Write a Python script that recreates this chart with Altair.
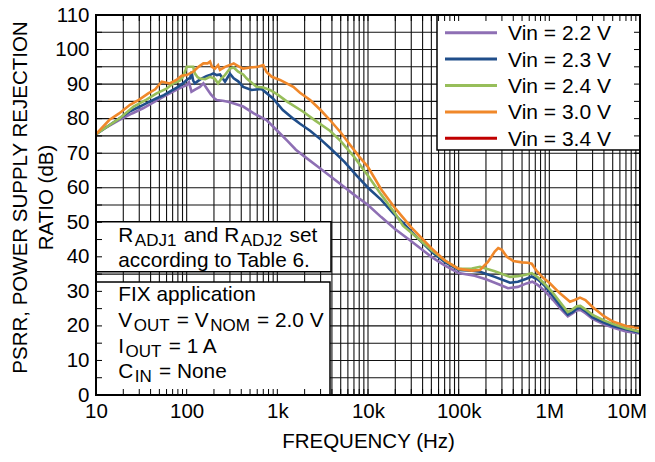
import altair as alt
import pandas as pd

FONT = "Liberation Sans"
W, H = 544, 380

# ---------------- data ----------------
series_names = ["Vin = 2.2 V", "Vin = 2.3 V", "Vin = 2.4 V", "Vin = 3.0 V", "Vin = 3.4 V"]
series_colors = ["#8e6fb4", "#204e8a", "#97be5a", "#f0882a", "#c00000"]

f22 = [10, 13, 18, 25, 33, 45, 55, 65, 77, 90, 100, 106, 113, 125, 140, 153, 166, 185, 200, 214,
       250, 286, 340, 420, 550, 760, 1000, 1300, 1600, 2000, 3000, 5000, 7000, 10000, 14000, 20000,
       30000, 50000, 70000, 100000, 150000, 200000, 280000, 350000, 450000, 560000, 650000, 750000,
       900000, 1100000, 1350000, 1600000, 1800000, 2000000, 2200000, 2500000, 3000000, 4000000,
       5000000, 7000000, 10000000]
db22 = [75.5, 77.5, 79.6, 81.5, 83, 85, 86.3, 87.3, 88.3, 89.2, 89.7, 90.5, 87.8, 88.5, 89.2, 90.2,
        88.8, 87, 86, 85.4, 85.2, 84.9, 84.3, 83.5, 81.5, 79.6, 76.5, 73.5, 71, 69, 65.5, 61, 58, 55,
        51.5, 48, 44.5, 40, 37.5, 35.3, 34.5, 33.5, 32, 30.9, 31.3, 32.3, 32.8, 31.8, 30, 27.5, 24.8,
        22.8, 23.6, 24.5, 24.6, 23.7, 22, 20.5, 19.5, 18.4, 17.8]

f23 = [10, 13, 18, 24, 30.5, 38, 46.6, 56, 65, 78, 91, 100, 105, 109, 113, 118, 123, 135, 146, 165,
       180, 197, 215, 233, 265, 300, 330, 370, 420, 520, 670, 890, 1150, 1500, 1778, 2300, 3000, 4000,
       5500, 7500, 10000, 14000, 19000, 25000, 35000, 50000, 70000, 100000, 140000, 172000, 250000,
       368000, 450000, 550000, 640000, 750000, 900000, 1100000, 1350000, 1600000, 1800000, 2000000,
       2200000, 2500000, 3000000, 4000000, 5000000, 7000000, 10000000]
db23 = [75.5, 77.5, 80, 82.2, 83.5, 84.8, 85.9, 86.8, 87.8, 89, 90.2, 91.2, 91.6, 91.6, 93.6, 91, 90.2,
        91, 91.6, 92.3, 92.6, 93.1, 92.6, 92.8, 90.7, 93, 91.7, 90.8, 89.2, 88.3, 88.6, 85.9, 82.5, 80,
        78.5, 76.5, 74, 71, 67.5, 63.5, 60, 56.5, 52.6, 49.5, 45.5, 41.5, 38.5, 36.2, 36, 35.7, 34.2,
        32.5, 32.8, 33.6, 34.3, 33.4, 31.5, 28.5, 25.5, 23.3, 24, 25, 25.3, 24.3, 22.5, 21, 20, 19, 18]

f24 = [10, 13, 18, 26, 36, 46.6, 60, 71, 84, 91, 97, 100, 110, 118, 123, 132, 140, 160, 181, 205,
       222, 240, 264, 300, 330, 370, 420, 460, 590, 700, 830, 1000, 1270, 1930, 2600, 3800, 5000, 7000,
       10000, 14000, 20000, 24300, 35000, 50000, 70000, 100000, 140000, 172000, 250000, 368000,
       450000, 550000, 640000, 750000, 900000, 1100000, 1350000, 1600000, 1800000, 2000000, 2200000,
       2500000, 3000000, 4000000, 5000000, 7000000, 10000000]
db24 = [75.5, 77.5, 80, 83.5, 85.5, 87.3, 88.7, 90.2, 91, 92.1, 94, 95, 95, 95, 93.1, 92, 91.6, 91.4,
        92.1, 91.5, 90.2, 91.5, 92.6, 94.5, 94.8, 93.6, 92.8, 91.6, 89.2, 89, 88.3, 87, 85, 82, 79.5,
        76.5, 73.5, 69, 63.5, 58, 52.5, 49, 45.5, 42, 39, 36.5, 36.6, 37.1, 35.8, 34.2, 34.4, 34.8,
        35.3, 34, 32, 29.5, 26.5, 24, 24.8, 25.7, 25.8, 24.8, 23.2, 21.6, 20.6, 19.3, 18.3]

f30 = [10, 14, 18, 23.7, 30, 37.7, 45, 53, 65, 77, 88, 100, 118, 135, 153, 170, 181, 190, 205, 222,
       233, 265, 300, 330, 370, 420, 500, 610, 700, 760, 870, 1070, 1500, 1778, 2300, 3000, 3800, 5000,
       6300, 8000, 10000, 14000, 20000, 30000, 50000, 70000, 100000, 140000, 172000, 210000, 250000,
       273000, 300000, 340000, 400000, 500000, 580000, 640000, 720000, 850000, 1000000, 1300000,
       1690000, 1900000, 2180000, 2500000, 3000000, 4000000, 5000000, 7000000, 10000000]
db30 = [75.5, 79.6, 81.5, 84, 85.5, 87.3, 88.5, 90.7, 90.2, 91.2, 92.4, 92.6, 93.6, 95, 96, 96, 96.5,
        95, 94.5, 95.5, 94.1, 95, 95.5, 96, 95.2, 94.5, 94.8, 95, 95.5, 93.5, 92.1, 91.2, 89.2, 87.5,
        85.4, 82.5, 79.6, 76, 72.5, 69, 66, 59.5, 54, 48.5, 42.5, 39, 36.5, 36, 36.2, 38.5, 41.5, 42.5,
        42, 40, 38.8, 38.4, 38.3, 38, 36, 34, 32.5, 29.5, 27, 27.5, 28.2, 27.5, 25.5, 22.8, 21.3, 20,
        19.3]

x_ticks = [10, 100, 1000, 10000, 100000, 1000000, 10000000]
x_tick_labels = ["10", "100", "1k", "10k", "100k", "1M", "10M"]
y_ticks = [0, 10, 20, 30, 40, 50, 60, 70, 80, 90, 100, 110]

# ---------------- tables ----------------
rows = []
for name, fs, ds in zip(series_names[:4], [f22, f23, f24, f30], [db22, db23, db24, db30]):
    for f, d in zip(fs, ds):
        rows.append({"series": name, "freq": f, "psrr": d})
df = pd.DataFrame(rows)

v_grid = [m * 10 ** k for k in range(1, 7) for m in range(1, 10)][1:]
h_grid = list(range(5, 110, 5))
vg = pd.DataFrame({"freq": v_grid})
hg = pd.DataFrame({"psrr": h_grid})
one = pd.DataFrame({"k": [0]})

xscale = alt.Scale(type="log", domain=[10, 10000000], nice=False)
yscale = alt.Scale(domain=[0, 110], nice=False, zero=False)

label_expr = " : ".join(f"datum.value == {v} ? '{l}'" for v, l in zip(x_ticks, x_tick_labels)) + " : ''"
last_tick = f"datum.value == {x_ticks[-1]}"

xaxis = alt.Axis(values=x_ticks, labelExpr=label_expr, grid=False, domain=False, ticks=False,
                 labelFont=FONT, labelFontSize=20.5, labelColor="black", labelPadding=6.5,
                 labelFlush=False, labelOverlap=False,
                 labelAlign=alt.condition(last_tick, alt.value("right"), alt.value("center")),
                 labelOffset=alt.condition(last_tick, alt.value(6.5), alt.value(0)),
                 title="FREQUENCY (Hz)", titleFont=FONT, titleFontSize=20.5, titleFontWeight="normal",
                 titleColor="black", titleBaseline="alphabetic", titleX=W / 2, titleY=52.5)
yaxis = alt.Axis(values=y_ticks, grid=False, domain=False, ticks=False,
                 labelFont=FONT, labelFontSize=20.5, labelColor="black", labelPadding=7,
                 labelOverlap=False,
                 title=["PSRR, POWER SUPPLY REJECTION", "RATIO (dB)"], titleFont=FONT,
                 titleFontSize=20.5, titleFontWeight="normal", titleColor="black",
                 titleLineHeight=26, titleX=-70, titleY=182, titleBaseline="alphabetic",
                 titleAlign="center", titleAngle=270)


def X():
    return alt.X("freq:Q", scale=xscale, axis=xaxis)


def Y():
    return alt.Y("psrr:Q", scale=yscale, axis=yaxis)


GRID = "#111111"
layers = []
layers.append(alt.Chart(vg).mark_rule(color=GRID, strokeWidth=1.1).encode(
    x=X(), y=alt.value(0), y2=alt.value(H)))
layers.append(alt.Chart(hg).mark_rule(color=GRID, strokeWidth=1.1).encode(
    y=Y(), x=alt.value(0), x2=alt.value(W)))
layers.append(alt.Chart(df).mark_line(strokeWidth=2.6).encode(
    x=X(), y=Y(),
    color=alt.Color("series:N", scale=alt.Scale(domain=series_names, range=series_colors), legend=None),
    order=alt.Order("freq:Q")))


# ---------------- annotation boxes ----------------
def box(x1, x2, y1, y2):
    return alt.Chart(one).mark_rect(fill="white", stroke="black", strokeWidth=1.5).encode(
        x=alt.value(x1), x2=alt.value(x2), y=alt.value(y1), y2=alt.value(y2))


layers.append(box(0, 235, 206.7, 256.7))
layers.append(box(0, 234, 267, H))

ARIAL = {' ': 278, '.': 278, ',': 278, '=': 584, '(': 333, ')': 333}
ARIAL.update({d: 556 for d in "0123456789"})
ARIAL.update(dict(zip("ABCDEFGHIJKLMNOPQRSTUVWXYZ",
                      [667, 667, 722, 722, 667, 611, 778, 722, 278, 500, 667, 556, 833, 722, 778, 667,
                       778, 722, 667, 611, 722, 667, 944, 667, 667, 611])))
ARIAL.update(dict(zip("abcdefghijklmnopqrstuvwxyz",
                      [556, 556, 500, 556, 556, 278, 556, 556, 222, 222, 500, 222, 833, 556, 556, 556,
                       556, 333, 500, 278, 556, 500, 722, 500, 500, 500])))


def tw(s, fs):
    return sum(ARIAL.get(c, 556) for c in s) / 1000 * fs


MAIN, SUB, SUBDY, GAP = 20.8, 17, 4, 1.5
annotation_rows = [
    (226.7, [("R", 0), ("ADJ1", 1), (" and R", 0), ("ADJ2", 1), (" set", 0)]),
    (251.7, [("according to Table 6.", 0)]),
    (285.7, [("FIX application", 0)]),
    (311.7, [("V", 0), ("OUT", 1), (" = V", 0), ("NOM", 1), (" = 2.0 V", 0)]),
    (338.3, [("I", 0), ("OUT", 1), (" = 1 A", 0)]),
    (363.3, [("C", 0), ("IN", 1), (" = None", 0)]),
]
for base_y, frags in annotation_rows:
    x = 22.3
    for s, sub in frags:
        fs = SUB if sub else MAIN
        lead = len(s) - len(s.lstrip(" "))
        txt = s.strip(" ")
        layers.append(alt.Chart(one).mark_text(
            text=txt, align="left", baseline="alphabetic", font=FONT, fontSize=fs, color="black").encode(
            x=alt.value(x + tw(" " * lead, fs)), y=alt.value(base_y + (SUBDY if sub else 0))))
        x += tw(s, fs) + GAP

# ---------------- legend box ----------------
LX1, LX2, LY2 = 341, W, 135
layers.append(box(LX1, LX2, 0, LY2))
for i, (name, col) in enumerate(zip(series_names, series_colors)):
    cy = 17.7 + 26.4 * i
    layers.append(alt.Chart(one).mark_rule(color=col, strokeWidth=3).encode(
        x=alt.value(LX1 + 8), x2=alt.value(LX1 + 60), y=alt.value(cy)))
    layers.append(alt.Chart(one).mark_text(
        text=name, align="left", baseline="alphabetic", font=FONT, fontSize=21, color="black").encode(
        x=alt.value(LX1 + 71), y=alt.value(cy + 7.5)))

# ---------------- inward ticks and frame ----------------
TK = 6
layers.append(alt.Chart(vg).mark_rule(color="black", strokeWidth=1).encode(
    x=X(), y=alt.value(H), y2=alt.value(H - TK)))
layers.append(alt.Chart(vg).mark_rule(color="black", strokeWidth=1).encode(
    x=X(), y=alt.value(0), y2=alt.value(TK)))
layers.append(alt.Chart(hg).mark_rule(color="black", strokeWidth=1).encode(
    y=Y(), x=alt.value(0), x2=alt.value(TK)))
layers.append(alt.Chart(hg).mark_rule(color="black", strokeWidth=1).encode(
    y=Y(), x=alt.value(W), x2=alt.value(W - TK)))

FR = 2
layers.append(alt.Chart(one).mark_rule(color="black", strokeWidth=FR).encode(
    x=alt.value(0), y=alt.value(0), y2=alt.value(H)))
layers.append(alt.Chart(one).mark_rule(color="black", strokeWidth=FR).encode(
    x=alt.value(W), y=alt.value(0), y2=alt.value(H)))
layers.append(alt.Chart(one).mark_rule(color="black", strokeWidth=FR).encode(
    y=alt.value(0), x=alt.value(-1), x2=alt.value(W + 1)))
layers.append(alt.Chart(one).mark_rule(color="black", strokeWidth=FR).encode(
    y=alt.value(H), x=alt.value(-1), x2=alt.value(W + 1)))

chart = alt.layer(*layers).properties(
    width=W, height=H,
    padding={"left": 88, "top": 7, "right": 7, "bottom": 57},
    autosize=alt.AutoSizeParams(type="none"),
    background="white",
).configure_view(stroke=None)

chart.save("out.html", embed_options={"renderer": "svg", "actions": False})
